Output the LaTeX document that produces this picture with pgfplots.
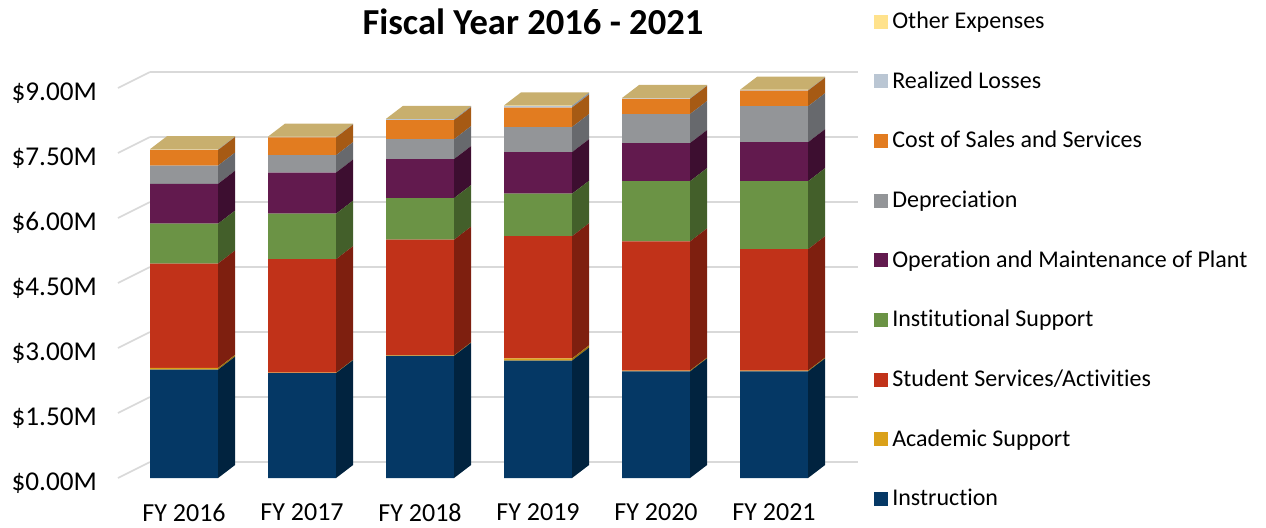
\documentclass[border=0pt]{standalone}
\usepackage{fontspec}
\setmainfont{Carlito}[Ligatures=NoCommon]
\usepackage{pgfplots}
\usepackage{pgfplotstable}
\pgfplotsset{compat=1.18}

% front faces
\definecolor{cInstr}{HTML}{053865}
\definecolor{cAcad}{HTML}{DAA11A}
\definecolor{cStud}{HTML}{C13219}
\definecolor{cInst}{HTML}{6B9345}
\definecolor{cOM}{HTML}{621A4E}
\definecolor{cDep}{HTML}{939598}
\definecolor{cCost}{HTML}{E27C20}
\definecolor{cReal}{HTML}{BAC6D3}
\definecolor{cOther}{HTML}{FFE28C}
% side faces
\definecolor{sInstr}{HTML}{01233F}
\definecolor{sAcad}{HTML}{9E7410}
\definecolor{sStud}{HTML}{7E1F0F}
\definecolor{sInst}{HTML}{435F2A}
\definecolor{sOM}{HTML}{3D0E30}
\definecolor{sDep}{HTML}{67696D}
\definecolor{sCost}{HTML}{A65A14}
\definecolor{sReal}{HTML}{8794A3}
\definecolor{sOther}{HTML}{C8AF6E}
\definecolor{gridc}{HTML}{D9D9D9}

% expenses in $M, read off the front faces
\pgfplotstableread{
x Instr Acad Stud Inst OM Dep Cost Real Other
0 2.50 0.04 2.41 0.92 0.92 0.42 0.36 0.01 0.01
1 2.42 0.01 2.62 1.05 0.95 0.40 0.41 0.01 0.01
2 2.82 0.01 2.67 0.96 0.90 0.46 0.44 0.02 0.01
3 2.71 0.05 2.82 0.98 0.96 0.58 0.45 0.04 0.01
4 2.46 0.02 2.98 1.39 0.88 0.67 0.35 0.01 0.01
5 2.46 0.02 2.80 1.57 0.90 0.83 0.36 0.01 0.01
}\costs

% side face of a segment, drawn from the top of the segment
\pgfdeclareplotmark{side}{%
  \pgfmathsetmacro\hh{\rawy*21.6667}%
  \pgfpathmoveto{\pgfpoint{17pt}{0pt}}%
  \pgfpathlineto{\pgfpoint{25.5pt}{6.5pt}}%
  \pgfpathlineto{\pgfpoint{25.5pt}{6.5pt-\hh pt}}%
  \pgfpathlineto{\pgfpoint{17pt}{-\hh pt}}%
  \pgfpathclose
  \pgfusepathqfill}
% side and lid of the last segment
\pgfdeclareplotmark{sidetop}{%
  \pgfmathsetmacro\hh{\rawy*21.6667}%
  \pgfpathmoveto{\pgfpoint{17pt}{0pt}}%
  \pgfpathlineto{\pgfpoint{25.5pt}{6.5pt}}%
  \pgfpathlineto{\pgfpoint{25.5pt}{6.5pt-\hh pt}}%
  \pgfpathlineto{\pgfpoint{17pt}{-\hh pt}}%
  \pgfpathclose
  \pgfpathmoveto{\pgfpoint{-17pt}{0pt}}%
  \pgfpathlineto{\pgfpoint{17pt}{0pt}}%
  \pgfpathlineto{\pgfpoint{25.5pt}{6.5pt}}%
  \pgfpathlineto{\pgfpoint{-8.5pt}{6.5pt}}%
  \pgfpathclose
  \pgfusepathqfill}

\begin{document}
\begin{tikzpicture}
\useasboundingbox (0pt,0pt) rectangle (633pt,263.5pt);
\coordinate (wallSW) at (75pt,32.5pt);
\coordinate (frontSW) at (59pt,24.5pt);

% back wall with its grid
\begin{axis}[
    at={(wallSW)}, anchor=south west,
    scale only axis,
    x=354pt, y=21.6667pt,
    xmin=0, xmax=1, ymin=0, ymax=9.3,
    axis line style={draw=none}, tick style={draw=none},
    xtick=\empty, ytick={0,1.5,3,4.5,6,7.5,9}, yticklabels={},
    ymajorgrids, grid style={gridc, line width=0.8pt},
    clip=false,
]
\addplot[draw=none] coordinates {(0,0)};
\pgfplotsinvokeforeach{0,1.5,3,4.5,6,7.5,9}{
  \draw[gridc, line width=0.8pt] (axis cs:0,#1) -- ++(-16pt,-8pt);
}
\end{axis}

\begin{axis}[
    at={(frontSW)}, anchor=south west,
    scale only axis,
    x=59pt, y=21.6667pt,
    xmin=-0.56, xmax=5.6, ymin=0, ymax=9.4,
    ybar stacked, bar width=34pt,
    clip=false,
    axis line style={draw=none}, tick style={draw=none},
    /pgf/number format/assume math mode=true,
    xtick={0,...,5},
    xticklabels={FY 2016,FY 2017,FY 2018,FY 2019,FY 2020,FY 2021},
    xticklabel style={font=\fontsize{13}{15}\selectfont, yshift=-9.3pt},
    ytick={0,1.5,3,4.5,6,7.5,9},
    yticklabel={\$\pgfmathprintnumber[fixed,fixed zerofill,precision=2]{\tick}M},
    yticklabel style={font=\fontsize{13.6}{16}\selectfont, xshift=-7pt, yshift=-2.5pt},
    visualization depends on=rawy\as\rawy,
    legend image code/.code={\fill[#1,draw=none] (0pt,-3.5pt) rectangle (7pt,3.5pt);},
    reverse legend,
    legend style={at={(axis description cs:1.04,1.155)}, anchor=north west,
        draw=none, fill=none, inner sep=0pt, row sep=16pt,
        font=\fontsize{12}{14}\selectfont, cells={anchor=west}},
]
\addplot[fill=cInstr, draw=none, mark=side, mark options={fill=sInstr, draw=none}] table[x=x, y=Instr] {\costs};
\addplot[fill=cAcad, draw=none, mark=side, mark options={fill=sAcad, draw=none}] table[x=x, y=Acad] {\costs};
\addplot[fill=cStud, draw=none, mark=side, mark options={fill=sStud, draw=none}] table[x=x, y=Stud] {\costs};
\addplot[fill=cInst, draw=none, mark=side, mark options={fill=sInst, draw=none}] table[x=x, y=Inst] {\costs};
\addplot[fill=cOM, draw=none, mark=side, mark options={fill=sOM, draw=none}] table[x=x, y=OM] {\costs};
\addplot[fill=cDep, draw=none, mark=side, mark options={fill=sDep, draw=none}] table[x=x, y=Dep] {\costs};
\addplot[fill=cCost, draw=none, mark=side, mark options={fill=sCost, draw=none}] table[x=x, y=Cost] {\costs};
\addplot[fill=cReal, draw=none, mark=side, mark options={fill=sReal, draw=none}] table[x=x, y=Real] {\costs};
\addplot[fill=cOther, draw=none, mark=sidetop, mark options={fill=sOther, draw=none}] table[x=x, y=Other] {\costs};
\legend{Instruction, Academic Support, Student Services/Activities, Institutional Support,
  Operation and Maintenance of Plant, Depreciation, Cost of Sales and Services,
  Realized Losses, Other Expenses}
\end{axis}

\node[font=\bfseries\fontsize{18.3}{22}\selectfont] at (266.5pt,252.5pt) {Fiscal Year 2016 - 2021};
\end{tikzpicture}
\end{document}
